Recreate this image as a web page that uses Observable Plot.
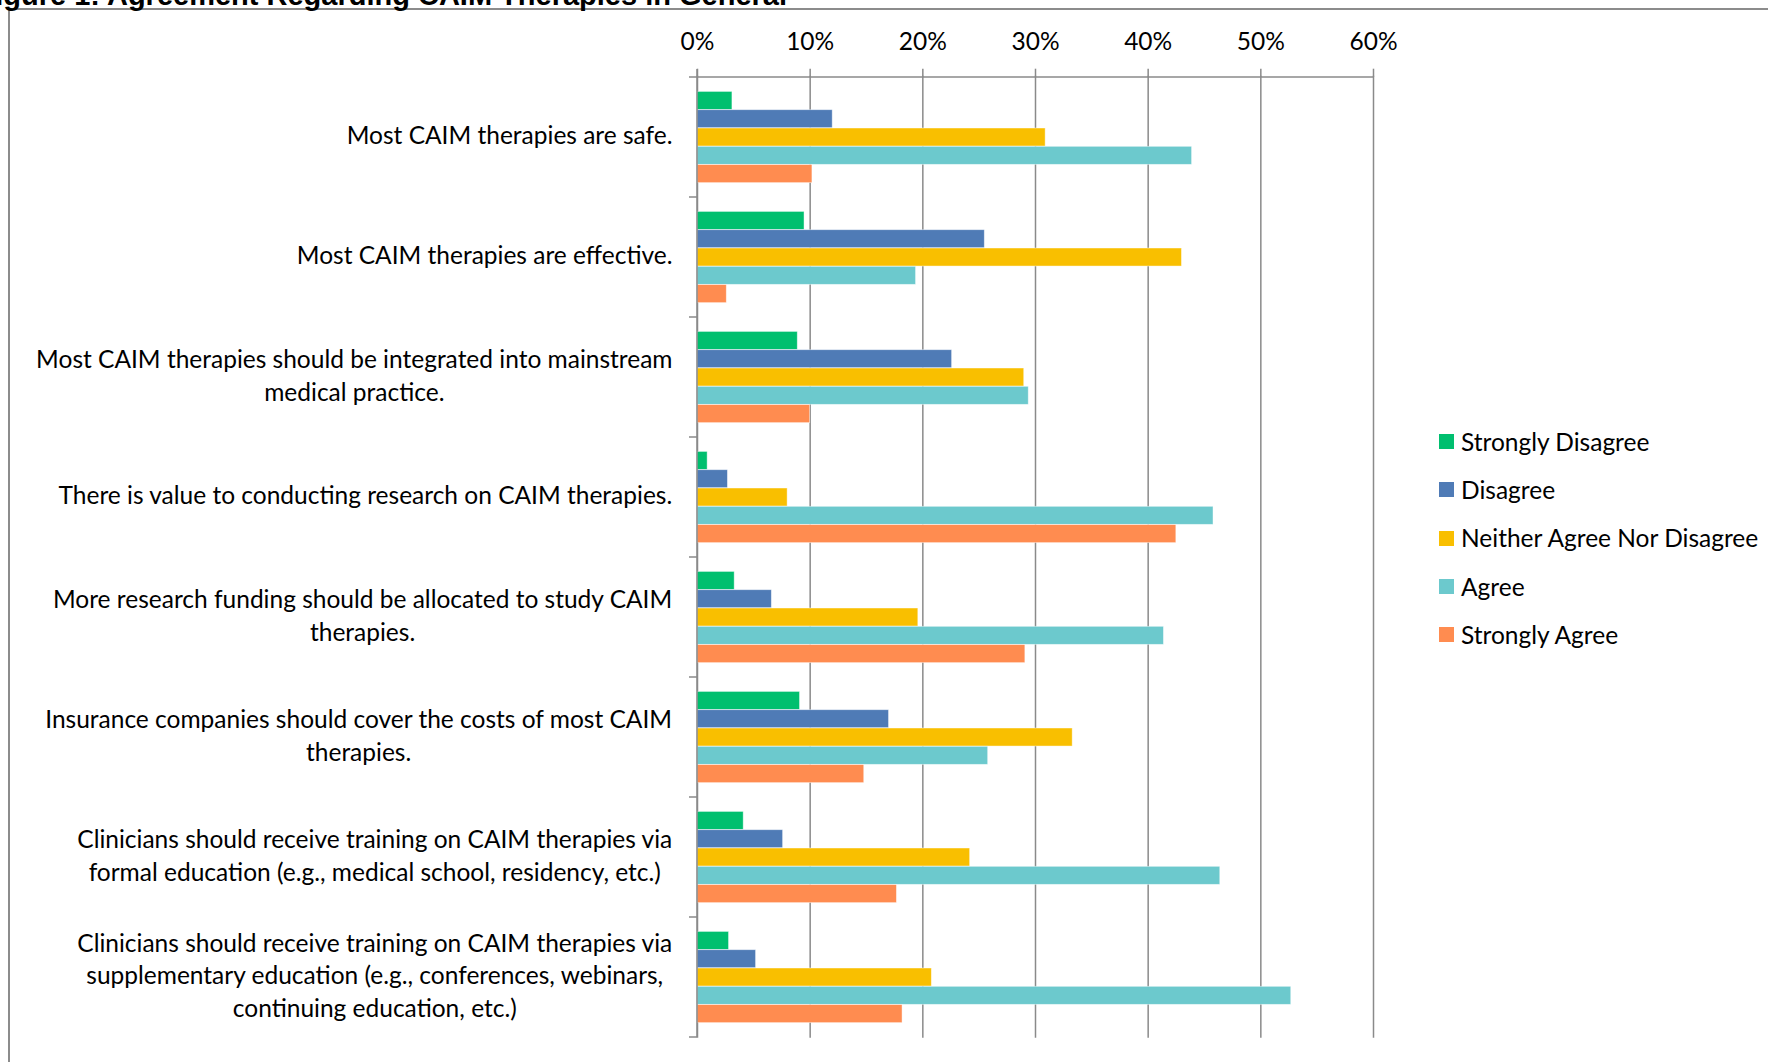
<!DOCTYPE html>
<html>
<head>
<meta charset="utf-8">
<script src="https://cdn.jsdelivr.net/npm/d3@7"></script>
<script src="https://cdn.jsdelivr.net/npm/@observablehq/plot@0.6"></script>
<style>
  html, body { margin: 0; padding: 0; background: #fff; overflow: hidden; }
  #wrap { position: relative; width: 1768px; height: 1062px; overflow: hidden; background: #fff; }
  #frame { position: absolute; left: 8px; top: 8px; width: 2000px; height: 2000px;
           border-left: 2px solid #8c8c8c; border-top: 2px solid #8c8c8c; box-sizing: border-box; }
  #title { position: absolute; right: 981px; top: -19.5px; font: bold 29px "Liberation Sans", Arial, sans-serif;
           line-height: 29px; white-space: nowrap; color: #000; }
  #chart { position: absolute; left: 0; top: 0; }
  #legend { position: absolute; left: 0; top: 0; width: 0; height: 0; font-family: Lato, sans-serif; font-size: 24.5px; color: #000; }
  .item { position: absolute; left: 1439px; height: 30px; display: flex; align-items: center; white-space: nowrap; }
  .sw { width: 15px; height: 15px; margin-right: 7px; flex: none; }
  .lab { line-height: 1.2; }
</style>
</head>
<body>
<div id="wrap">
  <div id="frame"></div>
  <div id="chart"></div>
  <div id="title">Figure 1: Agreement Regarding CAIM Therapies in General</div>
  <div id="legend"></div>
</div>
<script>
// ---- Data ----
const categories = [
  "Most CAIM therapies are safe.",
  "Most CAIM therapies are effective.",
  "Most CAIM therapies should be integrated into mainstream medical practice.",
  "There is value to conducting research on CAIM therapies.",
  "More research funding should be allocated to study CAIM therapies.",
  "Insurance companies should cover the costs of most CAIM therapies.",
  "Clinicians should receive training on CAIM therapies via formal education (e.g., medical school, residency, etc.)",
  "Clinicians should receive training on CAIM therapies via supplementary education (e.g., conferences, webinars, continuing education, etc.)"
];
const categoryLabels = [
  "Most CAIM therapies are safe.",
  "Most CAIM therapies are effective.",
  "Most CAIM therapies should be integrated into mainstream\nmedical practice.",
  "There is value to conducting research on CAIM therapies.",
  "More research funding should be allocated to study CAIM\ntherapies.",
  "Insurance companies should cover the costs of most CAIM\ntherapies.",
  "Clinicians should receive training on CAIM therapies via\nformal education (e.g., medical school, residency, etc.)",
  "Clinicians should receive training on CAIM therapies via\nsupplementary education (e.g., conferences, webinars,\ncontinuing education, etc.)"
];
const series = ["Strongly Disagree", "Disagree", "Neither Agree Nor Disagree", "Agree", "Strongly Agree"];
const seriesColors = ["#00BF6F", "#4F7BB6", "#F9BF00", "#6CC9CD", "#FF8C50"];

const stronglyDisagree = [3.1, 9.5, 8.9, 0.9, 3.3, 9.1, 4.1, 2.8];
const disagree         = [12.0, 25.5, 22.6, 2.7, 6.6, 17.0, 7.6, 5.2];
const neither          = [30.9, 43.0, 29.0, 8.0, 19.6, 33.3, 24.2, 20.8];
const agree            = [43.9, 19.4, 29.4, 45.8, 41.4, 25.8, 46.4, 52.7];
const stronglyAgree    = [10.2, 2.6, 10.0, 42.5, 29.1, 14.8, 17.7, 18.2];

const xTicks = [0, 10, 20, 30, 40, 50, 60];
const xTickLabels = ["0%", "10%", "20%", "30%", "40%", "50%", "60%"];

// ---- Table built from the arrays ----
const seriesValues = [stronglyDisagree, disagree, neither, agree, stronglyAgree];
const rows = series.flatMap((s, j) => categories.map((c, i) => ({category: c, series: s, value: seriesValues[j][i]})));

// ---- Layout / style ----
const W = 1768, H = 1062;
const mt = 75.7, mb = 24.3, ml = 697, mr = 395;
const bandH = (H - mt - mb) / categories.length;
const barPad = 14.4, barH = 18.3;
const gray = "#8a8a8a";
const fs = 24.5;
const labelGap = 25;

function axisLines(index, scales, values, dimensions) {
  const x = scales.x, y = scales.y;
  let bw = y && (typeof y.bandwidth === "function" ? y.bandwidth() : y.bandwidth);
  let tops = categories.map(c => (y ? y(c) : NaN));
  if (!tops.every(Number.isFinite) || !Number.isFinite(bw)) {
    bw = (dimensions.height - dimensions.marginTop - dimensions.marginBottom) / categories.length;
    tops = categories.map((c, i) => dimensions.marginTop + i * bw);
  }
  const x0 = x(0), x1 = x(xTicks[xTicks.length - 1]);
  const bottom = tops[tops.length - 1] + bw;
  const g = d3.create("svg:g").attr("stroke", gray).attr("stroke-width", 1.5).attr("fill", "none");
  g.append("line").attr("x1", x0 - 8).attr("x2", x1).attr("y1", tops[0]).attr("y2", tops[0]);
  g.append("line").attr("x1", x0).attr("x2", x0).attr("y1", tops[0] - 8).attr("y2", bottom);
  for (const t of tops.slice(1).concat([bottom])) {
    g.append("line").attr("x1", x0 - 8).attr("x2", x0).attr("y1", t).attr("y2", t);
  }
  return g.node();
}

function draw() {
  const ctx = document.createElement("canvas").getContext("2d");
  ctx.font = `${fs}px Lato`;
  const labelWidth = s => Math.max(...s.split("\n").map(l => ctx.measureText(l).width));

  const plot = Plot.plot({
    width: W,
    height: H,
    marginTop: mt,
    marginBottom: mb,
    marginLeft: ml,
    marginRight: mr,
    style: {fontFamily: "Lato, sans-serif", fontSize: fs + "px", color: "#000", background: "transparent"},
    x: {domain: [0, 60], axis: null, label: null},
    y: {domain: categories, padding: 0, axis: null, label: null},
    color: {domain: series, range: seriesColors},
    marks: [
      Plot.gridX(xTicks, {stroke: gray, strokeOpacity: 1, strokeWidth: 1.5}),
      ...series.map((s, j) => Plot.barX(rows.filter(d => d.series === s), {
        x: "value",
        y: "category",
        fill: "series",
        stroke: "#ffffff",
        strokeOpacity: 0.55,
        strokeWidth: 0.8,
        insetTop: barPad + j * barH,
        insetBottom: bandH - barPad - (j + 1) * barH
      })),
      Plot.axisX({
        anchor: "top",
        ticks: xTicks,
        tickSize: 8,
        tickPadding: 18,
        stroke: gray,
        strokeWidth: 1.5,
        label: null,
        tickFormat: d => xTickLabels[xTicks.indexOf(d)],
        fontSize: fs
      }),
      ...categories.map((c, i) => Plot.text([c], {
        y: d => d,
        text: d => categoryLabels[categories.indexOf(d)],
        frameAnchor: "left",
        textAnchor: "middle",
        lineAnchor: "middle",
        lineHeight: 1.335,
        dx: -(labelGap + labelWidth(categoryLabels[i]) / 2),
        dy: -3.5,
        fontSize: fs,
        fill: "#000"
      })),
      axisLines
    ]
  });
  document.getElementById("chart").appendChild(plot);

  // ---- Legend ----
  const legend = document.getElementById("legend");
  const legendCenters = [441.5, 489.5, 538, 586.5, 634.5];
  series.forEach((s, j) => {
    const item = document.createElement("div");
    item.className = "item";
    item.style.top = (legendCenters[j] - 15) + "px";
    const sw = document.createElement("div");
    sw.className = "sw";
    sw.style.background = seriesColors[j];
    const lab = document.createElement("span");
    lab.className = "lab";
    lab.textContent = s;
    item.appendChild(sw);
    item.appendChild(lab);
    legend.appendChild(item);
  });
}

if (document.fonts && document.fonts.load) {
  document.fonts.load(`${fs}px Lato`).then(draw, draw);
} else {
  draw();
}
</script>
</body>
</html>
